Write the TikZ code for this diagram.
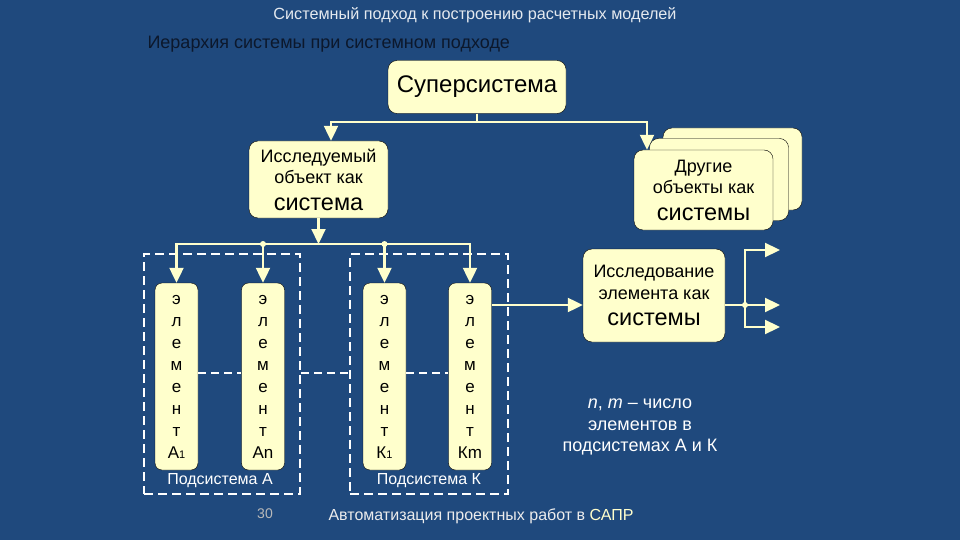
\documentclass[tikz,border=0pt]{standalone}
\usepackage{fontspec}
\setmainfont{Liberation Sans}
\usetikzlibrary{arrows.meta, positioning, calc}
\definecolor{slidebg}{RGB}{31,73,125}
\definecolor{boxfill}{RGB}{255,255,204}
\definecolor{linkcol}{RGB}{255,255,204}
\definecolor{titletext}{RGB}{12,24,44}

\newcommand{\elemtext}[1]{э\\л\\е\\м\\е\\н\\т\\#1}
\newcommand{\subidx}[1]{{\fontsize{11}{11}\selectfont #1}}

\tikzset{
  box/.style={draw=black, fill=boxfill, rounded corners=9pt, align=center, inner sep=0pt, text=black},
  elem/.style={box, rounded corners=7pt, minimum width=43pt, minimum height=187pt, font=\fontsize{17}{22}\selectfont},
  link/.style={draw=linkcol, line width=2.2pt, line join=miter},
  arr/.style={link, -{Triangle[length=15pt, width=14pt]}},
  subsys/.style={draw=white, line width=2pt, dash pattern=on 9pt off 5pt, minimum height=240pt, inner sep=0pt},
  gap/.style={draw=white, line width=2pt, dash pattern=on 8pt off 5pt},
  dot/.style={circle, fill=linkcol, inner sep=0pt, minimum size=6pt},
  sublabel/.style={text=white, font=\fontsize{16}{18}\selectfont},
}

\begin{document}
\begin{tikzpicture}[x=1pt, y=-1pt]
        \fill[slidebg] (0,0) rectangle (960,540);
        \useasboundingbox (0,0) rectangle (960,540);

        % titles
        \node[text=white!88!slidebg, font=\fontsize{16.2}{18}\selectfont] (title) at (475,15) {Системный подход к построению расчетных моделей};
        \node[text=titletext, font=\fontsize{18}{21}\selectfont, anchor=west] (subtitle) at (144,44) {Иерархия системы при системном подходе};

        % upper level
        \node[box, minimum width=178pt, minimum height=53pt, font=\fontsize{24}{27}\selectfont] (super) at (477,87) {Суперсистема};
        \node[box, minimum width=139pt, minimum height=77pt, font=\fontsize{18}{21}\selectfont] (obj) at (318.5,179.5) {Исследуемый\\объект как\\[6pt]{\fontsize{23.5}{26}\selectfont система}};

        % other systems (stack)
        \node[box, minimum width=139pt, minimum height=82pt] (oth3) at (732.5,169) {};
        \node[box, minimum width=139pt, minimum height=82pt] (oth2) at (719,179.5) {};
        \node[box, minimum width=139pt, minimum height=80pt, font=\fontsize{18}{21}\selectfont] (oth) at (703.5,190) {Другие\\объекты как\\[6pt]{\fontsize{23.5}{26}\selectfont системы}};

        % subsystems
        \node[subsys, minimum width=156pt] (sysA) at (222,374) {};
        \node[subsys, minimum width=158pt] (sysK) at (429,374) {};
        \node[sublabel] (labA) at (220,481) {Подсистема А};
        \node[sublabel] (labK) at (429,481) {Подсистема К};

        % elements
        \node[elem] (a1) at (176.5,376.5) {\elemtext{А\subidx{1}}};
        \node[elem] (an) at (263,376.5) {\elemtext{Аn}};
        \node[elem] (k1) at (384.5,376.5) {\elemtext{К\subidx{1}}};
        \node[elem] (km) at (470,376.5) {\elemtext{Кm}};

        % element as a system
        \node[box, minimum width=142pt, minimum height=93pt, font=\fontsize{18}{22}\selectfont] (elbox) at (654,295.5) {Исследование\\элемента как\\[4pt]{\fontsize{23.5}{26}\selectfont системы}};

        % top connectors
        \coordinate (tl) at (331,122);
        \coordinate (tr) at (647,122);
        \draw[arr] (super.south) |- (tl) -- (tl |- obj.north);
        \draw[arr] (super.south) |- (tr) -- (tr |- oth.north);

        % lower bus
        \coordinate (lowbus) at (0,244);
        \draw[arr] (obj.south) -- (obj.south |- lowbus);
        \draw[link] (an.north |- lowbus) -- (k1.north |- lowbus);
        \draw[arr] (an.north |- lowbus) -| (a1.north);
        \draw[arr] (an.north |- lowbus) -- (an.north);
        \draw[arr] (k1.north |- lowbus) -| (km.north);
        \draw[arr] (k1.north |- lowbus) -- (k1.north);
        \node[dot] (dotA) at (an.north |- lowbus) {};
        \node[dot] (dotK) at (k1.north |- lowbus) {};

        % dashed gaps
        \coordinate (gaprow) at (0,373);
        \draw[gap] (a1.east |- gaprow) -- (an.west |- gaprow);
        \draw[gap] (sysA.east |- gaprow) -- (sysK.west |- gaprow);
        \draw[gap] (k1.east |- gaprow) -- (km.west |- gaprow);

        % output of Km
        \coordinate (outrow) at (0,305);
        \coordinate (jn) at (745,305);
        \coordinate (outa) at (780,250);
        \coordinate (outb) at (780,305);
        \coordinate (outc) at (780,327);
        \draw[arr] (km.east |- outrow) -- (elbox.west |- outrow);
        \draw[link] (elbox.east |- outrow) -- (jn);
        \draw[arr] (jn) |- (outa);
        \draw[arr] (jn) -- (outb);
        \draw[arr] (jn) |- (outc);
        \node[dot] (jdot) at (jn) {};

        % note and footer
        \node[text=white, align=center, font=\fontsize{18}{21.5}\selectfont] (note) at (640,427) {\textit{n}, \textit{m} – число\\элементов в\\подсистемах А и К};
        \node[text=gray!55, font=\fontsize{14}{16}\selectfont] (page) at (265,514) {30};
        \node[text=white!85!gray, font=\fontsize{16}{18}\selectfont] (footer) at (481,516) {Автоматизация проектных работ в \textcolor{boxfill}{САПР}};
    \end{tikzpicture}
\end{document}
